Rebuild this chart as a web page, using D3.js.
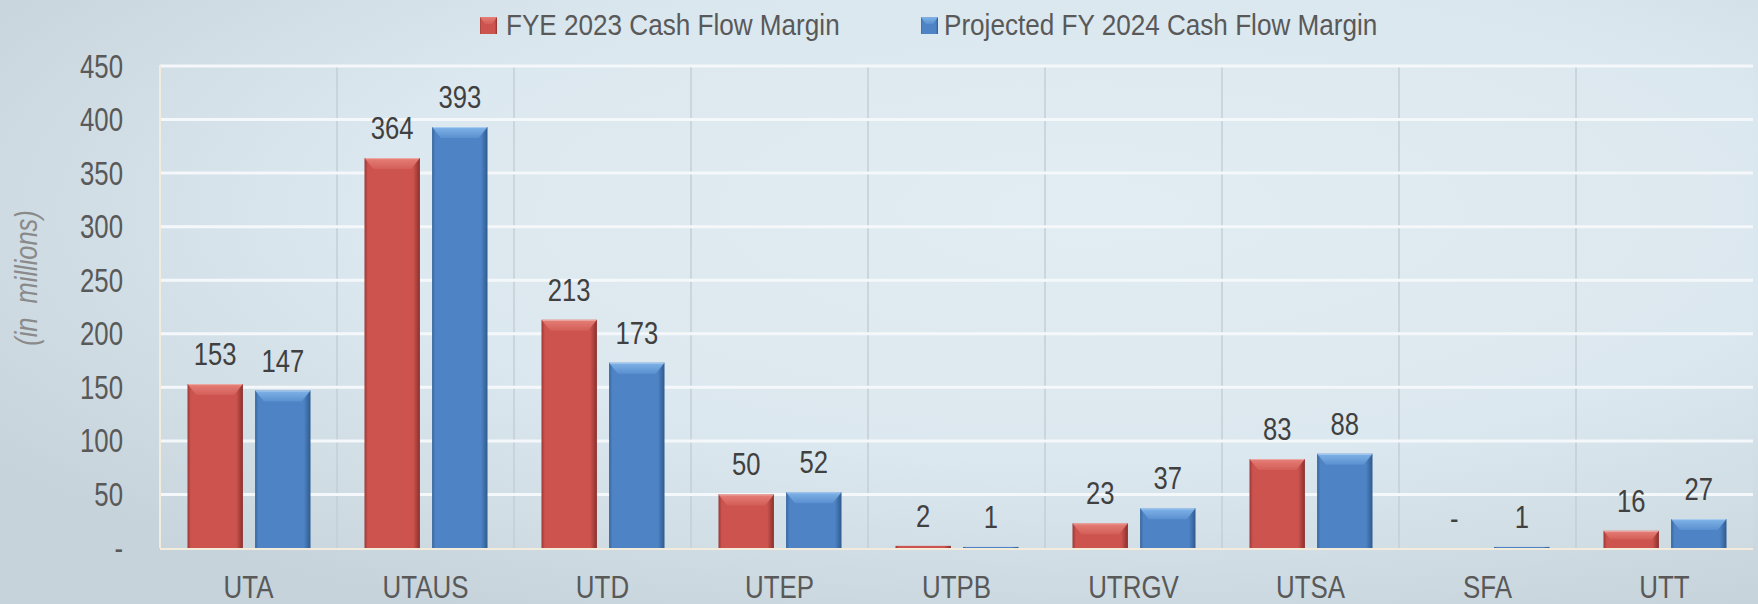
<!DOCTYPE html>
<html>
<head>
<meta charset="utf-8">
<script src="https://cdn.jsdelivr.net/npm/d3@7"></script>
<style>
  html, body { margin: 0; padding: 0; background: #d8e4eb; }
  svg { display: block; }
  text { font-family: "Liberation Sans", Arial, sans-serif; }
</style>
</head>
<body>
<svg id="chart" width="1758" height="604"></svg>
<script>
const categories = ["UTA", "UTAUS", "UTD", "UTEP", "UTPB", "UTRGV", "UTSA", "SFA", "UTT"];
const fye2023 = [153, 364, 213, 50, 2, 23, 83, 0, 16];
const fy2024 = [147, 393, 173, 52, 1, 37, 88, 1, 27];
const seriesNames = ["FYE 2023 Cash Flow Margin", "Projected FY 2024 Cash Flow Margin"];
const yTicks = [0, 50, 100, 150, 200, 250, 300, 350, 400, 450];
const yTitle = "(in  millions)";

const W = 1758, H = 604;
const plot = { left: 160, right: 1753, top: 66, bottom: 548 };

const svg = d3.select("#chart");
const defs = svg.append("defs");

function narrow(sel, ratio) {
  sel.each(function () {
    const len = this.getComputedTextLength();
    if (len > 0) d3.select(this).attr("textLength", len * ratio).attr("lengthAdjust", "spacingAndGlyphs");
  });
}

// background
const bg = defs.append("radialGradient").attr("id", "bg")
  .attr("cx", "0.62").attr("cy", "0.35").attr("r", "0.75");
bg.append("stop").attr("offset", "0").attr("stop-color", "#e0ecf2");
bg.append("stop").attr("offset", "0.55").attr("stop-color", "#dae7ee");
bg.append("stop").attr("offset", "1").attr("stop-color", "#c6d3db");
svg.append("rect").attr("width", W).attr("height", H).attr("fill", "url(#bg)");

const palettes = [
  { main: "#cc534e", edge: "#9b3835", edgeR: "#8a2f2c", top: "#e57f77", topEnd: "#d35e58" },
  { main: "#4e84c5", edge: "#36649c", edgeR: "#2f5a8e", top: "#7fb3e8", topEnd: "#5a90cf" }
];
palettes.forEach((p, i) => {
  const g = defs.append("linearGradient").attr("id", "side" + i).attr("x1", 0).attr("x2", 1).attr("y1", 0).attr("y2", 0);
  g.append("stop").attr("offset", "0").attr("stop-color", p.edge);
  g.append("stop").attr("offset", "0.06").attr("stop-color", p.main);
  g.append("stop").attr("offset", "0.88").attr("stop-color", p.main);
  g.append("stop").attr("offset", "1").attr("stop-color", p.edgeR);
  const t = defs.append("linearGradient").attr("id", "top" + i).attr("x1", 0).attr("x2", 0).attr("y1", 0).attr("y2", 1);
  t.append("stop").attr("offset", "0").attr("stop-color", p.top);
  t.append("stop").attr("offset", "1").attr("stop-color", p.topEnd);
});

const x = d3.scaleBand().domain(categories).range([plot.left, plot.right]).padding(0);
const x1 = d3.scaleBand().domain([0, 1]).range([27.5, 150.5]).paddingInner(0.18).paddingOuter(0);
const y = d3.scaleLinear().domain([0, 450]).range([plot.bottom, plot.top]);

// plot area subtle fill
svg.append("rect").attr("x", plot.left).attr("y", plot.top)
  .attr("width", plot.right - plot.left).attr("height", plot.bottom - plot.top)
  .attr("fill", "#ffffff").attr("fill-opacity", 0.06);

// vertical gridlines (category boundaries)
svg.append("g").selectAll("line").data(categories.slice(1)).join("line")
  .attr("x1", d => x(d)).attr("x2", d => x(d))
  .attr("y1", plot.top).attr("y2", plot.bottom)
  .attr("stroke", "#c3ced6").attr("stroke-width", 1.5);

// horizontal gridlines
svg.append("g").selectAll("line").data(yTicks.filter(d => d > 0)).join("line")
  .attr("x1", plot.left).attr("x2", plot.right)
  .attr("y1", d => y(d)).attr("y2", d => y(d))
  .attr("stroke", "#f4f8fa").attr("stroke-width", 3);

// plot left border
svg.append("line").attr("x1", plot.left).attr("x2", plot.left)
  .attr("y1", plot.top - 1).attr("y2", plot.bottom)
  .attr("stroke", "#f3ecdc").attr("stroke-width", 2);

// y axis
const yAxis = svg.append("g").attr("transform", `translate(${plot.left},0)`)
  .call(d3.axisLeft(y).tickValues(yTicks).tickFormat(d => d === 0 ? "-" : d).tickSize(0).tickPadding(37));
yAxis.select(".domain").remove();
yAxis.selectAll("text").attr("font-size", 33.5).attr("fill", "#595959")
  .attr("dy", "0.33em")
  .style("font-family", '"Liberation Sans", Arial, sans-serif')
  .call(narrow, 0.77);

// x axis
const xAxis = svg.append("g").attr("transform", `translate(0,${plot.bottom})`)
  .call(d3.axisBottom(x).tickSize(0).tickPadding(27));
xAxis.select(".domain").remove();
xAxis.selectAll("text").attr("font-size", 32).attr("fill", "#595959")
  .style("font-family", '"Liberation Sans", Arial, sans-serif')
  .call(narrow, 0.81);

// y title
svg.append("text")
  .attr("transform", `translate(37,278) rotate(-90)`)
  .attr("text-anchor", "middle")
  .attr("font-size", 31).attr("font-style", "italic").attr("fill", "#8a8a8a")
  .style("white-space", "pre")
  .text(yTitle)
  .call(narrow, 0.82);

// bars
const series = [fye2023, fy2024];
const bw = x1.bandwidth();
series.forEach((vals, si) => {
  const g = svg.append("g");
  const items = categories.map((c, i) => ({ c, v: vals[i] }));
  const bars = g.selectAll("g.bar").data(items.filter(d => d.v > 0)).join("g").attr("class", "bar");
  bars.each(function (d) {
    const x0 = x(d.c) + x1(si);
    const yt = y(d.v), yb = y(0);
    const h = yb - yt;
    const b = Math.min(11, h / 2);
    const sel = d3.select(this);
    sel.append("rect").attr("x", x0).attr("y", yt).attr("width", bw).attr("height", h)
      .attr("fill", `url(#side${si})`);
    if (h >= 3) {
      sel.append("path")
        .attr("d", `M${x0},${yt} L${x0 + bw},${yt} L${x0 + bw - b * 0.8},${yt + b} L${x0 + b * 0.8},${yt + b} Z`)
        .attr("fill", `url(#top${si})`);
      sel.append("line").attr("x1", x0 + 1).attr("x2", x0 + bw - 1).attr("y1", yt + 0.5).attr("y2", yt + 0.5)
        .attr("stroke", "#ffffff").attr("stroke-opacity", 0.35).attr("stroke-width", 1);
    }
  });
});

// baseline
svg.append("line").attr("x1", plot.left).attr("x2", plot.right)
  .attr("y1", plot.bottom + 1).attr("y2", plot.bottom + 1)
  .attr("stroke", "#f3ecdc").attr("stroke-width", 2);

// data labels
series.forEach((vals, si) => {
  svg.append("g").selectAll("text").data(categories.map((c, i) => ({ c, v: vals[i] }))).join("text")
    .attr("x", d => x(d.c) + x1(si) + bw / 2)
    .attr("y", d => y(d.v) - 19)
    .attr("text-anchor", "middle")
    .attr("font-size", 30.5).attr("fill", "#404040")
    .text(d => d.v === 0 ? "-" : d.v)
    .call(narrow, 0.84);
});

// legend
const legendX = [480, 921];
const legendTextX = [506, 944];
const legend = svg.append("g");
seriesNames.forEach((name, si) => {
  const lx = legendX[si];
  legend.append("rect").attr("x", lx).attr("y", 17).attr("width", 17).attr("height", 17)
    .attr("fill", `url(#side${si})`);
  legend.append("path")
    .attr("d", `M${lx},17 L${lx + 17},17 L${lx + 12},24 L${lx + 5},24 Z`)
    .attr("fill", `url(#top${si})`);
  legend.append("text").attr("x", legendTextX[si]).attr("y", 35)
    .attr("font-size", 30).attr("fill", "#595959").text(name)
    .call(narrow, 0.87);
});
</script>
</body>
</html>
